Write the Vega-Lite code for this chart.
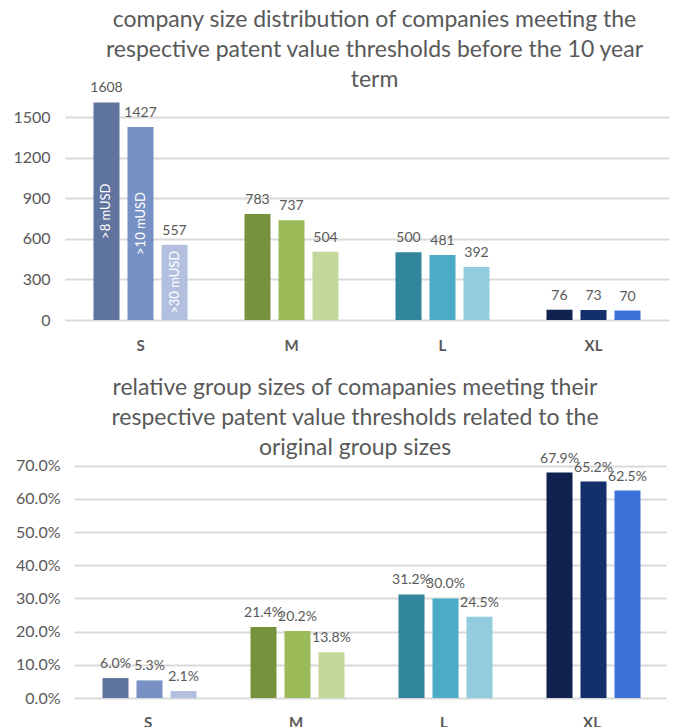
{
  "$schema": "https://vega.github.io/schema/vega-lite/v6.json",
  "padding": {"left": 12, "top": 9, "right": 4, "bottom": 0},
  "config": {
    "view": {"stroke": null},
    "font": "Lato",
    "axis": {"labelColor": "#595959", "labelFont": "Lato", "titleColor": "#595959"},
    "axisY": {"domain": false, "ticks": false, "gridColor": "#d9d9d9", "gridWidth": 2, "labelFontSize": 16},
    "axisX": {"domain": false, "ticks": false, "grid": false, "labelFontSize": 15, "labelFontWeight": "bold", "labelAngle": 0},
    "title": {"font": "Lato", "fontSize": 23, "fontWeight": "normal", "color": "#595959", "lineHeight": 30, "anchor": "middle"}
  },
  "datasets": {
    "d": [
      {"size": "S", "threshold": ">8 mUSD", "count": 1608, "share": 0.060},
      {"size": "S", "threshold": ">10 mUSD", "count": 1427, "share": 0.053},
      {"size": "S", "threshold": ">30 mUSD", "count": 557, "share": 0.021},
      {"size": "M", "threshold": ">8 mUSD", "count": 783, "share": 0.214},
      {"size": "M", "threshold": ">10 mUSD", "count": 737, "share": 0.202},
      {"size": "M", "threshold": ">30 mUSD", "count": 504, "share": 0.138},
      {"size": "L", "threshold": ">8 mUSD", "count": 500, "share": 0.312},
      {"size": "L", "threshold": ">10 mUSD", "count": 481, "share": 0.300},
      {"size": "L", "threshold": ">30 mUSD", "count": 392, "share": 0.245},
      {"size": "XL", "threshold": ">8 mUSD", "count": 76, "share": 0.679},
      {"size": "XL", "threshold": ">10 mUSD", "count": 73, "share": 0.652},
      {"size": "XL", "threshold": ">30 mUSD", "count": 70, "share": 0.625}
    ]
  },
  "spacing": 23,
  "vconcat": [
    {
      "width": 595,
      "height": 230,
      "title": {"text": ["company size distribution of companies meeting the", "respective patent value thresholds before the 10 year", "term"], "offset": -11, "dx": 3},
      "data": {"name": "d"},
      "transform": [{"calculate": "datum.size + ' ' + datum.threshold", "as": "key"}],
      "encoding": {
        "x": {"field": "size", "type": "nominal", "sort": ["S", "M", "L", "XL"], "title": null, "scale": {"paddingInner": 0, "paddingOuter": 0, "range": [-9, 595]}, "axis": {"labelPadding": 18}},
        "xOffset": {"field": "threshold", "type": "nominal", "sort": [">8 mUSD", ">10 mUSD", ">30 mUSD"], "scale": {"paddingInner": 0.235, "paddingOuter": 0.838}},
        "y": {"field": "count", "type": "quantitative", "title": null, "scale": {"domain": [0, 1700], "nice": false}, "axis": {"values": [0, 300, 600, 900, 1200, 1500], "format": "d", "offset": 9, "labelPadding": 15}}
      },
      "layer": [
        {
          "mark": {"type": "bar"},
          "encoding": {
            "color": {"field": "key", "type": "nominal", "legend": null, "scale": {
              "domain": ["S >8 mUSD", "S >10 mUSD", "S >30 mUSD", "M >8 mUSD", "M >10 mUSD", "M >30 mUSD", "L >8 mUSD", "L >10 mUSD", "L >30 mUSD", "XL >8 mUSD", "XL >10 mUSD", "XL >30 mUSD"],
              "range": ["#5f739f", "#7891c5", "#b3bfde", "#77923c", "#9bbb59", "#c4d79b", "#31869b", "#4bacc6", "#93cddd", "#112150", "#14306c", "#3b73db"]}}
          }
        },
        {
          "mark": {"type": "text", "baseline": "alphabetic", "dy": -10, "fontSize": 14, "color": "#595959"},
          "encoding": {
            "text": {"field": "count", "type": "quantitative"}
          }
        },
        {
          "transform": [{"filter": "datum.size == 'S'"}, {"calculate": "datum.count / 2", "as": "mid"}],
          "mark": {"type": "text", "angle": 270, "align": "center", "baseline": "middle", "fontSize": 13, "color": "white"},
          "encoding": {
            "y": {"field": "mid", "type": "quantitative"},
            "text": {"field": "threshold", "type": "nominal"}
          }
        }
      ]
    },
    {
      "width": 592,
      "height": 239,
      "title": {"text": ["relative group sizes of comapanies meeting their", "respective patent value thresholds related to the", "original group sizes"], "offset": -8, "dx": -15},
      "data": {"name": "d"},
      "transform": [{"calculate": "datum.size + ' ' + datum.threshold", "as": "key"}],
      "encoding": {
        "x": {"field": "size", "type": "nominal", "sort": ["S", "M", "L", "XL"], "title": null, "scale": {"paddingInner": 0, "paddingOuter": 0}, "axis": {"labelPadding": 17}},
        "xOffset": {"field": "threshold", "type": "nominal", "sort": [">8 mUSD", ">10 mUSD", ">30 mUSD"], "scale": {"paddingInner": 0.235, "paddingOuter": 0.838}},
        "y": {"field": "share", "type": "quantitative", "title": null, "scale": {"domain": [0, 0.72], "nice": false}, "axis": {"values": [0, 0.1, 0.2, 0.3, 0.4, 0.5, 0.6, 0.7], "format": ".1%", "labelPadding": 14}}
      },
      "layer": [
        {
          "mark": {"type": "bar"},
          "encoding": {
            "color": {"field": "key", "type": "nominal", "legend": null, "scale": {
              "domain": ["S >8 mUSD", "S >10 mUSD", "S >30 mUSD", "M >8 mUSD", "M >10 mUSD", "M >30 mUSD", "L >8 mUSD", "L >10 mUSD", "L >30 mUSD", "XL >8 mUSD", "XL >10 mUSD", "XL >30 mUSD"],
              "range": ["#5f739f", "#7891c5", "#b3bfde", "#77923c", "#9bbb59", "#c4d79b", "#31869b", "#4bacc6", "#93cddd", "#112150", "#14306c", "#3b73db"]}}
          }
        },
        {
          "mark": {"type": "text", "baseline": "alphabetic", "dy": -10, "fontSize": 14, "color": "#595959"},
          "encoding": {
            "text": {"field": "share", "type": "quantitative", "format": ".1%"}
          }
        }
      ]
    }
  ]
}
